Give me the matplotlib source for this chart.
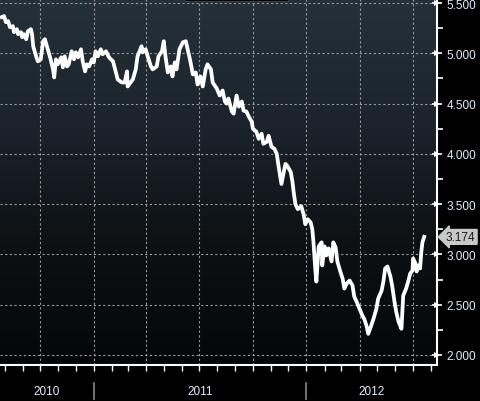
import numpy as np
import pandas as pd
import matplotlib
matplotlib.use("Agg")
import matplotlib.pyplot as plt
import matplotlib.dates as mdates
from matplotlib.colors import LinearSegmentedColormap
from matplotlib.patches import Rectangle
import matplotlib.transforms as mtransforms

# ---- data ----
base_date = "2010-07-24"
day_offsets = [3, 7, 10, 14, 17, 22, 24, 29, 31, 36, 38, 41, 45, 48, 53, 55, 57, 62, 65, 70,
               74, 77, 81, 86, 91, 93, 96, 99, 105, 108, 111, 115, 118, 123, 127, 130, 134, 139, 142, 146,
               149, 153, 158, 161, 164, 168, 173, 176, 182, 187, 194, 199, 202, 209, 214, 218, 219, 224, 228, 233,
               236, 243, 245, 250, 254, 259, 262, 269, 272, 278, 281, 284, 288, 293, 296, 300, 303, 308, 314, 319,
               322, 326, 331, 336, 339, 344, 348, 353, 356, 362, 365, 372, 377, 382, 386, 389, 392, 398, 401, 406,
               410, 415, 418, 423, 427, 432, 434, 440, 444, 449, 452, 458, 461, 466, 471, 475, 478, 483, 487, 490,
               493, 499, 502, 504, 507, 511, 517, 521, 524, 528, 533, 536, 538, 541, 543, 547, 552, 553, 557, 560,
               564, 569, 572, 576, 579, 584, 588, 591, 595, 600, 605, 608, 612, 617, 622, 625, 629, 632, 637, 641,
               646, 649, 655, 658, 661, 665, 670, 673, 677, 680, 684, 689, 691, 692, 697, 701, 704, 708, 709, 713,
               715, 718, 721, 723, 725, 728]
values = [5.36, 5.37, 5.31, 5.32, 5.26, 5.27, 5.21, 5.24, 5.19, 5.21, 5.16, 5.19, 5.14, 5.22, 5.24, 5.19, 5.07, 4.97, 4.92, 4.94,
          5.12, 5.14, 5.06, 4.96, 4.84, 4.76, 4.94, 4.89, 4.96, 4.86, 4.97, 4.87, 4.89, 5.02, 4.94, 5.01, 4.96, 5.04, 4.92, 4.82,
          4.89, 4.87, 4.94, 4.91, 5.02, 4.97, 5.04, 4.99, 5.02, 4.96, 4.92, 4.81, 4.74, 4.71, 4.71, 4.82, 4.67, 4.71, 4.74, 4.84,
          4.97, 5.07, 5.01, 5.04, 4.96, 4.87, 4.84, 4.87, 4.97, 5.02, 5.12, 4.97, 4.81, 4.87, 4.77, 4.91, 4.84, 5.04, 5.11, 5.12,
          5.04, 4.94, 4.79, 4.81, 4.69, 4.77, 4.67, 4.84, 4.89, 4.84, 4.71, 4.65, 4.58, 4.63, 4.52, 4.50, 4.55, 4.42, 4.40, 4.58,
          4.47, 4.52, 4.43, 4.42, 4.37, 4.32, 4.25, 4.22, 4.15, 4.20, 4.10, 4.12, 4.18, 4.07, 4.05, 4.00, 3.88, 3.70, 3.82, 3.90,
          3.88, 3.82, 3.72, 3.62, 3.50, 3.45, 3.48, 3.40, 3.30, 3.35, 3.32, 3.25, 3.12, 2.86, 2.73, 3.08, 3.12, 2.89, 3.08, 2.99,
          3.06, 2.93, 3.12, 3.07, 2.93, 2.83, 2.76, 2.66, 2.71, 2.74, 2.69, 2.58, 2.53, 2.46, 2.39, 2.36, 2.29, 2.21, 2.29, 2.36,
          2.46, 2.56, 2.64, 2.73, 2.86, 2.88, 2.78, 2.69, 2.53, 2.43, 2.33, 2.26, 2.49, 2.59, 2.66, 2.74, 2.81, 2.84, 2.96, 2.91,
          2.83, 2.89, 2.86, 3.02, 3.12, 3.174]
last_label = "3.174"
y_ticks = [2.0, 2.5, 3.0, 3.5, 4.0, 4.5, 5.0, 5.5]
y_minor = [2.25, 2.75, 3.25, 3.75, 4.25, 4.75, 5.25]
x_start, x_end = "2010-07-24", "2012-08-12"
y_min, y_max = 1.90, 5.54
grid_dates = ["2010-10-01", "2011-01-01", "2011-04-01", "2011-07-01",
              "2011-10-01", "2012-01-01", "2012-04-01", "2012-07-01"]
year_labels = ["2010", "2011", "2012"]
year_bounds = ["2010-07-24", "2011-01-01", "2012-01-01", "2012-08-12"]

dates = pd.Timestamp(base_date) + pd.to_timedelta(day_offsets, unit="D")
FONT = ["Liberation Sans", "DejaVu Sans"]

# ---- figure ----
fig = plt.figure(figsize=(4.8, 4.02), dpi=100, facecolor="black")
ax = fig.add_axes([0, 36 / 402, 437 / 480, 366 / 402])
ax.set_facecolor("black")

x0, x1 = mdates.date2num(pd.Timestamp(x_start)), mdates.date2num(pd.Timestamp(x_end))
cmap = LinearSegmentedColormap.from_list("bg", ["#050607", "#0d1114", "#1b242c", "#25303a"])
grad = np.linspace(0, 1, 256).reshape(-1, 1)
ax.imshow(grad, cmap=cmap, aspect="auto", origin="lower",
          extent=[x0, x1, y_min, y_max], zorder=0)

ax.set_xlim(x0, x1)
ax.set_ylim(y_min, y_max)

# grid
for g in grid_dates:
    ax.axvline(mdates.date2num(pd.Timestamp(g)), color="#9a9a9a", lw=0.8,
               dashes=(2, 2.2), zorder=1)
for t in y_ticks:
    ax.axhline(t, color="#9a9a9a", lw=0.8, dashes=(2, 2.2), zorder=1)

ax.plot(dates, values, color="white", lw=2.7, solid_joinstyle="round", zorder=3)

# spines
for s in ["left", "top"]:
    ax.spines[s].set_visible(False)
ax.spines["right"].set_color("white")
ax.spines["right"].set_linewidth(1.5)
ax.spines["bottom"].set_color("white")
ax.spines["bottom"].set_linewidth(1.5)

ax.yaxis.tick_right()
ax.set_yticks(y_ticks)
ax.set_yticks(y_minor, minor=True)
ax.set_yticklabels([f"{t:.3f}" for t in y_ticks])
ax.tick_params(axis="y", which="major", length=0, pad=7, labelcolor="#e4eeff",
               labelsize=8.5)
ax.tick_params(axis="y", which="minor", length=4, width=1.2, color="white", direction="out")
for lab in ax.get_yticklabels():
    lab.set_family(FONT)
# triangle markers next to major ticks
ax.plot([1.0] * len(y_ticks), y_ticks, marker=">", ms=4.5, color="white",
        transform=ax.get_yaxis_transform(), ls="none", clip_on=False, zorder=5,
        markeredgewidth=0)
ax.plot([1.0] * len(y_ticks), y_ticks, marker="_", ms=7, color="white",
        transform=ax.get_yaxis_transform(), ls="none", clip_on=False, zorder=5,
        mew=1.2)

ax.xaxis.set_major_locator(mdates.MonthLocator())
ax.xaxis.set_major_formatter(plt.NullFormatter())
ax.tick_params(axis="x", which="major", length=4, width=1.0, color="white", direction="out")

# year labels and separators
trans = mtransforms.blended_transform_factory(ax.transData, fig.transFigure)
yb = [mdates.date2num(pd.Timestamp(d)) for d in year_bounds]
for i, lab in enumerate(year_labels):
    ax.text((yb[i] + yb[i + 1]) / 2, 10 / 402, lab, transform=trans, ha="center",
            va="center", color="#e4eeff", fontsize=8.5, family=FONT)
for b in yb[1:3]:
    ax.plot([b, b], [2 / 402, 18 / 402], transform=trans, color="#8a8a8a",
            lw=1.2, clip_on=False)

# last value label
ax.annotate(last_label, xy=(1.0, values[-1]), xycoords=("axes fraction", "data"),
            xytext=(6.5, 0), textcoords="offset points", ha="left", va="center",
            color="#1a1a1a", fontsize=8.5, family=FONT,
            bbox=dict(boxstyle="larrow,pad=0.12", fc="#c8c8c8", ec="#c8c8c8"),
            annotation_clip=False, zorder=6)

# cut-off legend box at top
fig.patches.append(Rectangle((185 / 480, 400 / 402), 103 / 480, 3 / 402,
                             transform=fig.transFigure, fc="black", ec="#444444", lw=0.6))

fig.savefig("out.png", dpi=100, facecolor="black")
